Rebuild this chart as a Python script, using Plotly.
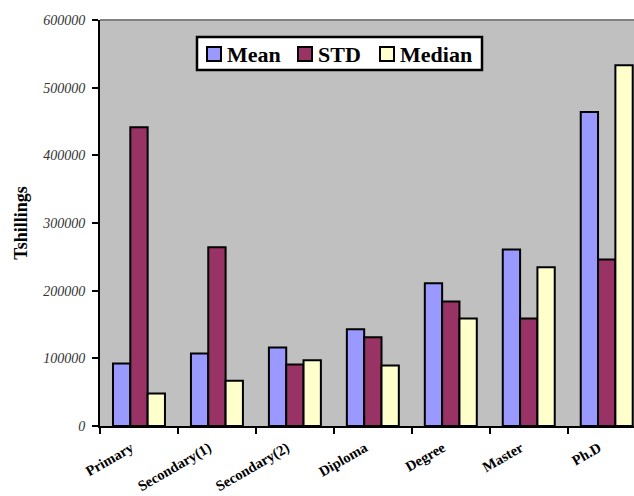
import plotly.graph_objects as go

categories = ["Primary", "Secondary(1)", "Secondary(2)", "Diploma", "Degree", "Master", "Ph.D"]
mean_vals = [92500, 107000, 116000, 143000, 211000, 261000, 464000]
std_vals = [441500, 264000, 91000, 131000, 184000, 159000, 246000]
median_vals = [48000, 67000, 97000, 89500, 159000, 234500, 533000]
y_ticks = [0, 100000, 200000, 300000, 400000, 500000, 600000]

series = [("Mean", mean_vals, "#9999FF"), ("STD", std_vals, "#993366"), ("Median", median_vals, "#FFFFCC")]

W, H = 634, 496
ML, MR, MT, MB = 100, 0, 20, 70
PW, PH = W - ML - MR, H - MT - MB


def px_x(p):
    return (p - ML) / PW


def px_y(p):
    return (H - MB - p) / PH


fig = go.Figure()
for name, vals, col in series:
    fig.add_trace(go.Bar(x=categories, y=vals, name=name, showlegend=False,
                         marker=dict(color=col, line=dict(color="black", width=2))))

serif = "Liberation Serif"
fig.update_layout(
    width=W, height=H,
    margin=dict(l=ML, r=MR, t=MT, b=MB, autoexpand=False),
    paper_bgcolor="white", plot_bgcolor="#C0C0C0",
    barmode="group", bargap=1/3, bargroupgap=0,
    showlegend=False,
    xaxis=dict(type="category", range=[-0.5, 6.35], tickson="boundaries", automargin=False,
               ticks="outside", ticklen=6, tickwidth=2, tickcolor="black",
               showline=True, linecolor="black", linewidth=2,
               showgrid=False, tickangle=-30, ticklabelstandoff=6, ticklabelshift=-8,
               tickfont=dict(family=serif, size=14.5, color="black", weight="bold")),
    yaxis=dict(range=[0, 600000], tickvals=y_ticks, ticktext=[str(v) for v in y_ticks],
               automargin=False,
               ticks="outside", ticklen=6, tickwidth=2, tickcolor="black",
               showline=True, linecolor="black", linewidth=2, showgrid=False, zeroline=False,
               ticklabelstandoff=4,
               tickfont=dict(family=serif, size=14, color="#333333", style="italic"),
               title=dict(text="Tshillings", standoff=10,
                          font=dict(family=serif, size=18, color="black", weight="bold"))),
)
# top border of plot area
fig.add_shape(type="line", xref="paper", yref="paper", x0=0, x1=1, y0=1, y1=1,
              line=dict(color="#808080", width=2))

# legend box (drawn manually to match the reference layout)
fig.add_shape(type="rect", xref="paper", yref="paper",
              x0=px_x(197), x1=px_x(482), y0=px_y(70), y1=px_y(37),
              fillcolor="white", line=dict(color="black", width=2.5), layer="above")
leg_sq_x = [207, 298, 380]
for (name, _, col), sx in zip(series, leg_sq_x):
    fig.add_shape(type="rect", xref="paper", yref="paper",
                  x0=px_x(sx), x1=px_x(sx + 14), y0=px_y(61), y1=px_y(47),
                  fillcolor=col, line=dict(color="black", width=2), layer="above")
    fig.add_annotation(xref="paper", yref="paper", x=px_x(sx + 18), y=px_y(54.5),
                       xanchor="left", yanchor="middle", showarrow=False, text=name,
                       font=dict(family=serif, size=22, color="black", weight="bold"))

fig.write_html("out.html", config={"displayModeBar": False},
               post_script="document.body.style.margin='0';")
